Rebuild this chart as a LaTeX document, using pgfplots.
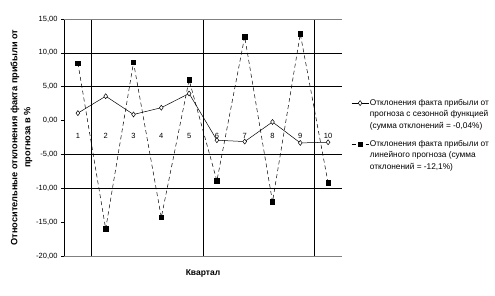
\documentclass[border=0pt]{standalone}
\usepackage{pgfplots}
\pgfplotsset{compat=1.18}
\usepackage{fontspec}
\setmainfont{Liberation Sans}
\begin{document}
\begin{tikzpicture}
\useasboundingbox[fill=white] (-64pt,-39pt) rectangle (431pt,256pt);
\begin{axis}[
  at={(0,0)}, anchor=south west,
  scale only axis, width=278pt, height=237pt,
  xmin=0.5, xmax=10.5, ymin=-20, ymax=15,
  axis y line*=left, axis x line*=middle,
  hide obscured x ticks=false, hide obscured y ticks=false,
  x axis line style={draw=none},
  y axis line style={black, line width=0.6pt, -},
  ytick={-20,-15,...,15},
  xtick={1,...,10},
  xtick style={draw=none},
  ytick style={black, line width=0.6pt},
  tick align=outside, major tick length=3pt,
  xticklabel style={yshift=-6pt},
  yticklabel style={/pgf/number format/.cd, fixed, fixed zerofill, precision=2, use comma},
  /pgf/number format/assume math mode=true,
  tick label style={font=\fontsize{7.5}{8}\selectfont},
  ylabel={Относительные отклонения факта прибыли от\\прогноза в \%},
  ylabel style={at={(axis description cs:-0.153,0.5)}, anchor=center, align=center, font=\bfseries\fontsize{9.2}{13}\selectfont},
  xlabel={Квартал},
  xlabel style={at={(axis description cs:0.5,-0.072)}, anchor=center, font=\bfseries\fontsize{8.5}{9}\selectfont},
  legend style={at={(axis description cs:1.022,0.675)}, anchor=north west, draw=none, fill=none, font=\fontsize{8.3}{9}\selectfont, row sep=1.5pt, nodes={inner sep=1pt}},
  legend cell align=left,
  clip=false,
]
\pgfplotsinvokeforeach{10,5,-5,-10}{\draw[black, line width=0.6pt] (axis cs:0.5,#1) -- (axis cs:10.5,#1);}
\pgfplotsinvokeforeach{1.5,5.5,9.5}{\draw[black, line width=0.6pt] (axis cs:#1,-20) -- (axis cs:#1,15);}
\draw[gray, line width=0.6pt] (axis cs:0.5,15) -- (axis cs:10.5,15);
\draw[gray, line width=0.6pt] (axis cs:0.5,-20) -- (axis cs:10.5,-20);
\addplot[black, line width=0.5pt, mark=diamond*, mark size=2.5pt, mark options={fill=white, solid}] coordinates {
(1,1.1) (2,3.6) (3,0.9) (4,1.9) (5,4.0) (6,-2.9) (7,-3.1) (8,-0.2) (9,-3.3) (10,-3.2)};
\addlegendentry{\strut Отклонения факта прибыли от}
\addlegendimage{empty legend}\addlegendentry{\strut прогноза с сезонной функцией}
\addlegendimage{empty legend}\addlegendentry{\strut (сумма отклонений = -0,04\%)}
\addlegendimage{empty legend}\addlegendentry{\rule{0pt}{2pt}}
\addplot[black, line width=0.5pt, dash pattern=on 4pt off 3pt, mark=square*, mark size=2.2pt, mark options={fill=black, solid}] coordinates {
(1,8.5) (2,-16.0) (3,8.6) (4,-14.3) (5,6.0) (6,-8.9) (7,12.4) (8,-12.0) (9,12.8) (10,-9.2)};
\addlegendentry{\strut Отклонения факта прибыли от}
\addlegendimage{empty legend}\addlegendentry{\strut линейного прогноза (сумма}
\addlegendimage{empty legend}\addlegendentry{\strut отклонений = -12,1\%)}
\end{axis}
\end{tikzpicture}
\end{document}
